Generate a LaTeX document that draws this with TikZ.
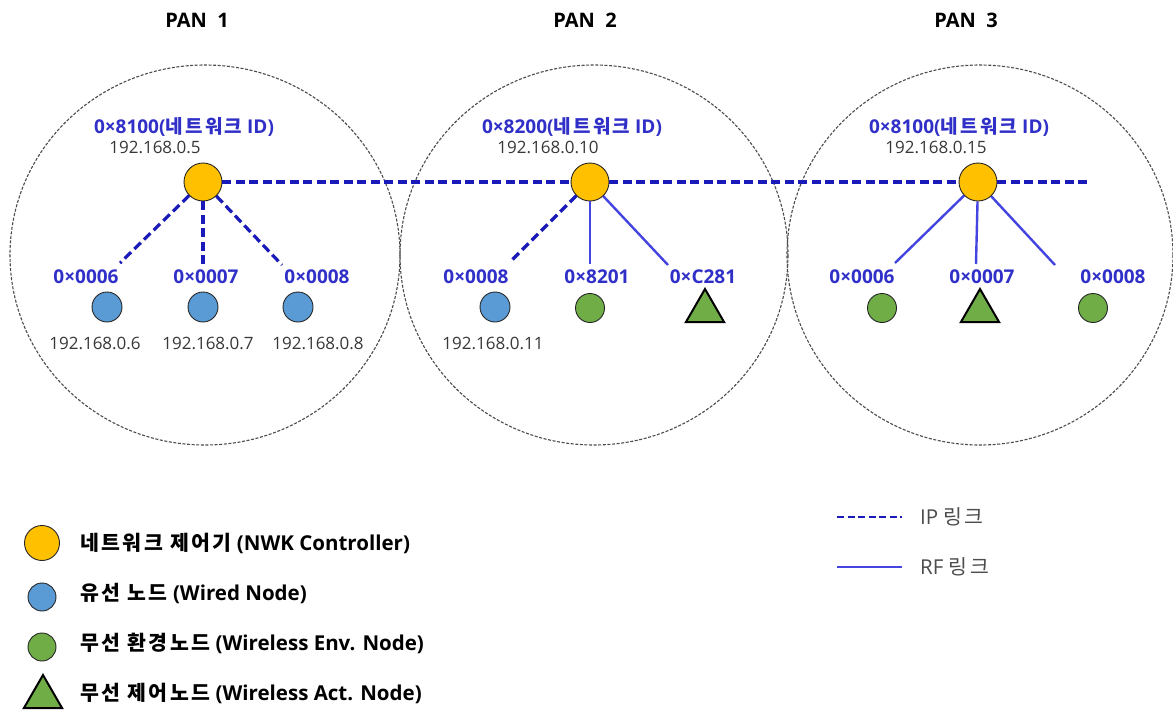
\documentclass[tikz,border=0pt]{standalone}
\usepackage{fontspec}
\setmainfont{Open Sans}
\newfontfamily\kr[LetterSpace=12]{Noto Sans CJK KR}
\usetikzlibrary{shapes.geometric}
\definecolor{ctrlY}{HTML}{FFC000}
\definecolor{wiredB}{HTML}{5B9BD5}
\definecolor{envG}{HTML}{70AD47}
\definecolor{ipblue}{HTML}{1A1AB8}
\definecolor{rfblue}{HTML}{4444E0}
\definecolor{addrblue}{HTML}{3030C8}
\begin{document}
\begin{tikzpicture}[x=1pt,y=-1pt,
  panring/.style={draw=black!70, dash pattern=on 3pt off 1.6pt, line width=1.1pt},
  ctrl/.style={circle, draw=black!85, fill=ctrlY, minimum size=38pt, inner sep=0pt, line width=0.9pt},
  wired/.style={circle, draw=black!85, fill=wiredB, minimum size=30pt, inner sep=0pt, line width=0.9pt},
  envnode/.style={circle, draw=black!85, fill=envG, minimum size=29pt, inner sep=0pt, line width=0.9pt},
  actnode/.style={regular polygon, regular polygon sides=3, draw=black, fill=envG, minimum size=44pt, inner sep=0pt, line width=2pt},
  iplink/.style={draw=ipblue, line width=3.2pt, dash pattern=on 9pt off 4.5pt},
  rflink/.style={draw=rfblue, line width=2.4pt},
  addr/.style={text=addrblue, font=\bfseries\fontsize{19}{19}\selectfont, inner sep=0pt},
  ipaddr/.style={text=black!78, font=\fontsize{17}{17}\selectfont, inner sep=0pt},
  legtext/.style={font=\bfseries\fontsize{20.5}{20.5}\selectfont, anchor=west, inner sep=0pt},
  linktext/.style={text=black!70, font=\fontsize{20.5}{20.5}\selectfont, anchor=west, inner sep=0pt},
  pantitle/.style={font=\bfseries\fontsize{20}{20}\selectfont, inner sep=0pt}
]
\useasboundingbox (0,0) rectangle (1173,712);
\fill[white] (0,0) rectangle (1173,712);

% PAN rings
\draw[panring] (205,255) ellipse [x radius=195, y radius=190];
\draw[panring] (594,255) ellipse [x radius=194, y radius=190];
\draw[panring] (980,255) ellipse [x radius=193, y radius=190];

% titles
\node[pantitle] (t1) at (197,20) {PAN\ \ 1};
\node[pantitle] (t2) at (585,20) {PAN\ \ 2};
\node[pantitle] (t3) at (966,20) {PAN\ \ 3};

% controllers
\node[ctrl] (c1) at (203,182) {};
\node[ctrl] (c2) at (590,182) {};
\node[ctrl] (c3) at (978,182) {};
\coordinate (ipend) at (1089,182);

\node[addr] (n1) at (184,127) {0×8100({\kr 네트워크} ID)};
\node[ipaddr] (i1) at (155,147) {192.168.0.5};
\node[addr] (n2) at (572,127) {0×8200({\kr 네트워크} ID)};
\node[ipaddr] (i2) at (548,147) {192.168.0.10};
\node[addr] (n3) at (959,127) {0×8100({\kr 네트워크} ID)};
\node[ipaddr] (i3) at (936,147) {192.168.0.15};

% IP backbone
\draw[iplink] (c1) -- (c2) -- (c3) -- (ipend);

% PAN 1 children
\node[wired] (a1) at (107,307) {};
\node[wired] (a2) at (203,307) {};
\node[wired] (a3) at (298,307) {};
\node[addr] (la1) at (86,277) {0×0006};
\node[addr] (la2) at (206,277) {0×0007};
\node[addr] (la3) at (317,277) {0×0008};
\node[ipaddr] (ia1) at (95,343) {192.168.0.6};
\node[ipaddr] (ia2) at (208,343) {192.168.0.7};
\node[ipaddr] (ia3) at (318,343) {192.168.0.8};
\coordinate (e11) at (120,263);
\coordinate (e12) at (203,265);
\coordinate (e13) at (282,265);
\draw[iplink] (c1) -- (e11);
\draw[iplink] (c1) -- (e12);
\draw[iplink] (c1) -- (e13);

% PAN 2 children
\node[wired] (b1) at (495,307) {};
\node[envnode] (b2) at (590,308) {};
\node[actnode] (b3) at (705,311) {};
\node[addr] (lb1) at (476,277) {0×0008};
\node[addr] (lb2) at (597,277) {0×8201};
\node[addr] (lb3) at (703,277) {0×C281};
\node[ipaddr] (ib1) at (493,343) {192.168.0.11};
\coordinate (e21) at (510,262);
\coordinate (e22) at (590,264);
\coordinate (e23) at (668,265);
\draw[iplink] (c2) -- (e21);
\draw[rflink] (c2) -- (e22);
\draw[rflink] (c2) -- (e23);

% PAN 3 children
\node[envnode] (d1) at (882,308) {};
\node[actnode] (d2) at (980,311) {};
\node[envnode] (d3) at (1093,308) {};
\node[addr] (ld1) at (862,277) {0×0006};
\node[addr] (ld2) at (982,277) {0×0007};
\node[addr] (ld3) at (1113,277) {0×0008};
\coordinate (e31) at (895,263);
\coordinate (e32) at (976,264);
\coordinate (e33) at (1055,265);
\draw[rflink] (c3) -- (e31);
\draw[rflink] (c3) -- (e32);
\draw[rflink] (c3) -- (e33);

% legend (node types)
\node[ctrl, minimum size=35pt] (k1) at (42,543) {};
\node[wired, minimum size=28pt] (k2) at (42,597) {};
\node[envnode, minimum size=28pt] (k3) at (42,647) {};
\node[actnode] (k4) at (43,697) {};
\node[legtext] (kt1) at (80,543) {{\kr 네트워크 제어기} (NWK Controller)};
\node[legtext] (kt2) at (80,593) {{\kr 유선 노드} (Wired Node)};
\node[legtext] (kt3) at (80,643) {{\kr 무선 환경노드} (Wireless Env. Node)};
\node[legtext] (kt4) at (80,693) {{\kr 무선 제어노드} (Wireless Act. Node)};

% legend (links)
\coordinate (ka) at (837,517);
\coordinate (kb) at (902,517);
\coordinate (kc) at (837,567);
\coordinate (kd) at (902,567);
\draw[iplink, line width=2.8pt, dash pattern=on 7pt off 3.5pt] (ka) -- (kb);
\draw[rflink] (kc) -- (kd);
\node[linktext] (kl1) at (920,517) {IP {\kr 링크}};
\node[linktext] (kl2) at (920,567) {RF {\kr 링크}};
\end{tikzpicture}
\end{document}
